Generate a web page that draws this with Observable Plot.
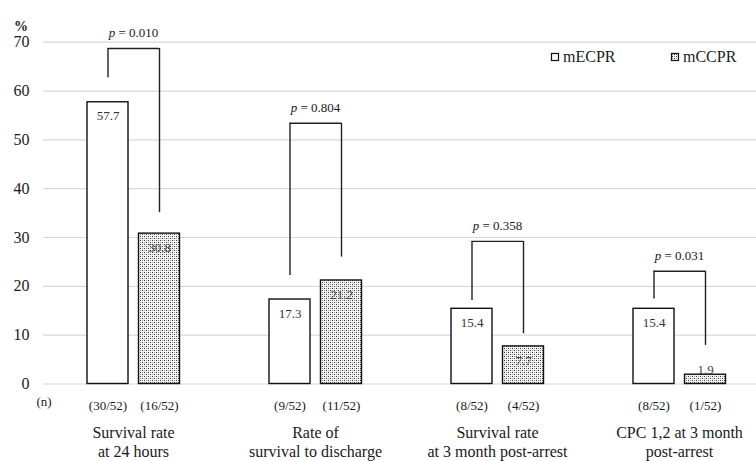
<!DOCTYPE html>
<html>
<head>
<meta charset="utf-8">
<script src="https://cdn.jsdelivr.net/npm/d3@7"></script>
<script src="https://cdn.jsdelivr.net/npm/@observablehq/plot@0.6"></script>
<style>
  html, body { margin: 0; padding: 0; background: #fff; overflow: hidden; }
  #chart { position: relative; width: 756px; height: 461px; }
</style>
</head>
<body>
<!-- fine dot fill used for the mCCPR bars -->
<svg width="0" height="0" style="position:absolute">
  <defs>
    <pattern id="dots" width="4" height="4" patternUnits="userSpaceOnUse">
      <rect width="4" height="4" fill="#f4f4f4"></rect>
      <rect x="0" y="0" width="1" height="1" fill="#3a3a3a"></rect>
      <rect x="2" y="2" width="1" height="1" fill="#3a3a3a"></rect>
      <rect x="2" y="0" width="1" height="1" fill="#9a9a9a"></rect>
      <rect x="0" y="2" width="1" height="1" fill="#9a9a9a"></rect>
    </pattern>
  </defs>
</svg>
<div id="chart"></div>
<script>
// Outcome categories (two-line labels)
const categories = [
  "Survival rate\nat 24 hours",
  "Rate of\nsurvival to discharge",
  "Survival rate\nat 3 month post-arrest",
  "CPC 1,2 at 3 month\npost-arrest"
];
// Percentages per group
const mECPR = [57.7, 17.3, 15.4, 15.4];
const mCCPR = [30.8, 21.2, 7.7, 1.9];
// Counts shown under each bar
const nECPR = ["(30/52)", "(9/52)", "(8/52)", "(8/52)"];
const nCCPR = ["(16/52)", "(11/52)", "(4/52)", "(1/52)"];
// Significance brackets: p value, bracket height, leg ends (in %)
const pValues = ["0.010", "0.804", "0.358", "0.031"];
const bracketTop = [68.7, 53.4, 29.2, 23.1];
const bracketLeftEnd = [62.7, 22.2, 17.1, 17.4];
const bracketRightEnd = [35.1, 26.0, 10.3, 7.9];
const yTicks = [0, 10, 20, 30, 40, 50, 60, 70];

const rows = categories.map((c, i) => ({
  cat: c,
  ecpr: mECPR[i], ccpr: mCCPR[i],
  nE: nECPR[i], nC: nCCPR[i],
  p: "p = " + pValues[i],
  top: bracketTop[i], left: bracketLeftEnd[i], right: bracketRightEnd[i]
}));

const serif = "'Liberation Serif', 'Times New Roman', serif";
const ink = "#1a1a1a";
// label sits 14px inside the bar top, but never lower than 14px above the base
const labelFloor = 5.73;

const plot = Plot.plot({
  width: 756,
  height: 461,
  marginLeft: 43,
  marginRight: 0,
  marginTop: 41.7,
  marginBottom: 77.5,
  style: { fontFamily: serif, fontSize: "16px", color: ink, background: "#fff" },
  x: { domain: categories, range: [42, 770], padding: 0, axis: null },
  y: { domain: [0, 70], ticks: yTicks, axis: null },
  marks: [
    Plot.ruleY(yTicks, { stroke: "#d9d9d9", strokeWidth: 1.2 }),
    Plot.axisY(yTicks, {
      tickSize: 0, tickPadding: 14, fontSize: 16, fill: ink, label: null,
      tickFormat: d => String(d)
    }),
    Plot.text(["%"], {
      frameAnchor: "top-left", dx: -22.5, dy: -21.5,
      textAnchor: "middle", fontWeight: "bold", fontSize: 14, fill: ink
    }),
    Plot.barY(rows, {
      x: "cat", y: "ecpr", fill: "#fff", stroke: "#111", strokeWidth: 1.4,
      insetLeft: 45, insetRight: 96
    }),
    Plot.barY(rows, {
      x: "cat", y: "ccpr", fill: "url(#dots)", stroke: "#111", strokeWidth: 1.4,
      insetLeft: 96.5, insetRight: 44.5
    }),
    Plot.text(rows, {
      x: "cat", y: d => Math.max(d.ecpr, labelFloor), text: d => d.ecpr.toFixed(1),
      dx: -25.5, dy: 14, fontSize: 13, fill: "#333"
    }),
    Plot.text(rows, {
      x: "cat", y: d => Math.max(d.ccpr, labelFloor), text: d => d.ccpr.toFixed(1),
      dx: 26, dy: 14, fontSize: 13, fill: "#444"
    }),
    // brackets
    Plot.ruleX(rows, { x: "cat", y1: "left", y2: "top", dx: -25.5, stroke: "#222", strokeWidth: 1.4 }),
    Plot.ruleX(rows, { x: "cat", y1: "right", y2: "top", dx: 26, stroke: "#222", strokeWidth: 1.4 }),
    Plot.tickY(rows, { x: "cat", y: "top", insetLeft: 65.5, insetRight: 65, stroke: "#222", strokeWidth: 1.4 }),
    Plot.text(rows, { x: "cat", y: "top", text: "p", dy: -15.5, fontSize: 13, fill: ink }),
    // counts and category names beneath the axis
    Plot.text(rows, { x: "cat", y: () => 0, text: "nE", dx: -25.5, dy: 22, fontSize: 13, fill: ink }),
    Plot.text(rows, { x: "cat", y: () => 0, text: "nC", dx: 26, dy: 22, fontSize: 13, fill: ink }),
    Plot.text(["(n)"], { frameAnchor: "bottom-left", dx: -7, dy: 22, fontSize: 13, fill: ink }),
    Plot.text(rows, { x: "cat", y: () => 0, text: "cat", dy: 57.5, lineHeight: 1.15, fontSize: 16, fill: ink })
  ]
});

// italic "p" in the significance labels
d3.select(plot).selectAll("text").each(function () {
  const t = this.textContent;
  if (this.childElementCount === 0 && t.startsWith("p = ")) {
    const el = d3.select(this);
    el.text(null);
    el.append("tspan").attr("font-style", "italic").text("p");
    el.append("tspan").text(t.slice(1));
  }
});

// legend
const lg = d3.select(plot).append("g")
  .attr("font-family", serif).attr("font-size", 16).attr("fill", ink)
  .attr("text-anchor", "start");
[["mECPR", "#fff", 551], ["mCCPR", "url(#dots)", 671]].forEach(([name, fill, x]) => {
  lg.append("rect").attr("x", x + 0.5).attr("y", 53.5).attr("width", 7).attr("height", 7)
    .attr("fill", fill).attr("stroke", "#111").attr("stroke-width", 1.2);
  lg.append("text").attr("x", x + 12).attr("y", 62).attr("text-anchor", "start").text(name);
});

document.getElementById("chart").appendChild(plot);
</script>
</body>
</html>
